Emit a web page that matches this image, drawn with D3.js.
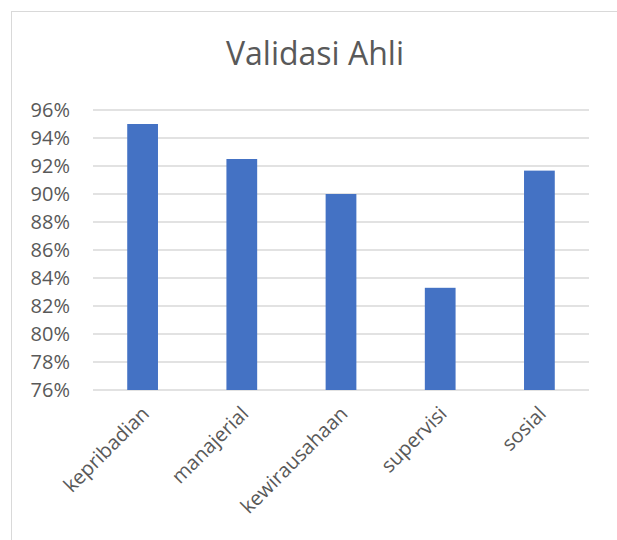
<!DOCTYPE html>
<meta charset="utf-8">
<style>
body { margin: 0; background: #fff; }
text { font-family: "Open Sans", sans-serif; fill: #595959; }
.grid line { stroke: #d9d9d9; stroke-width: 1.5; }
.axis path, .axis line { display: none; }
</style>
<svg width="617" height="540"></svg>
<script src="https://d3js.org/d3.v7.min.js"></script>
<script>

var categories = ["kepribadian", "manajerial", "kewirausahaan", "supervisi", "sosial"];
var values = [0.95, 0.925, 0.90, 0.833, 0.9167];
var yTicks = [0.76, 0.78, 0.80, 0.82, 0.84, 0.86, 0.88, 0.90, 0.92, 0.94, 0.96];

var svg = d3.select("svg");

// chart frame
svg.append("rect")
    .attr("x", 11.5).attr("y", 11.5)
    .attr("width", 640).attr("height", 560)
    .attr("fill", "none")
    .attr("stroke", "#d9d9d9");

var x = d3.scaleBand().domain(categories).range([93, 589]).paddingInner(0.69).paddingOuter(0.345);
var y = d3.scaleLinear().domain([0.76, 0.96]).range([390, 110]);

svg.append("text")
    .attr("x", 315).attr("y", 65)
    .attr("text-anchor", "middle")
    .style("font-size", "32px")
    .text("Validasi Ahli");

// gridlines
svg.append("g").attr("class", "grid")
  .selectAll("line")
  .data(yTicks)
  .enter().append("line")
    .attr("x1", 93).attr("x2", 589)
    .attr("y1", function(d) { return y(d); })
    .attr("y2", function(d) { return y(d); });

svg.append("g")
    .attr("class", "axis")
    .attr("transform", "translate(84,0)")
    .call(d3.axisLeft(y).tickValues(yTicks).tickFormat(d3.format(".0%")).tickSize(0).tickPadding(14))
  .selectAll("text")
    .style("font-size", "20px")
    .attr("fill", "#595959");

svg.selectAll(".bar")
    .data(values)
  .enter().append("rect")
    .attr("class", "bar")
    .attr("x", function(d, i) { return x(categories[i]); })
    .attr("y", function(d) { return y(d); })
    .attr("width", x.bandwidth())
    .attr("height", function(d) { return y(0.76) - y(d); })
    .attr("fill", "#4472c4");

// rotated category labels
svg.append("g")
  .selectAll("text")
  .data(categories)
  .enter().append("text")
    .attr("text-anchor", "end")
    .attr("transform", function(d) {
      return "translate(" + (x(d) + x.bandwidth() / 2 + 3) + ",410) rotate(-45)";
    })
    .attr("dy", "0.35em")
    .style("font-size", "20px")
    .text(function(d) { return d; });

</script>
